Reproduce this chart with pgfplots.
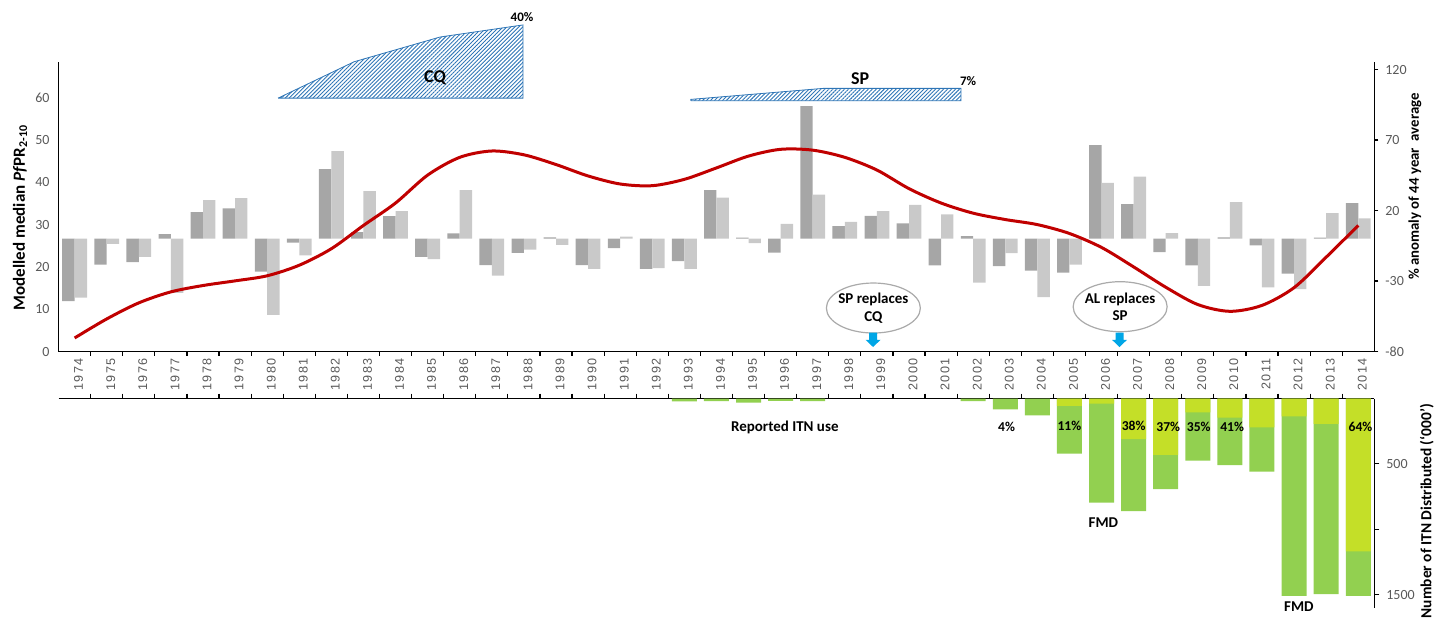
\documentclass[border=0pt]{standalone}
\usepackage{fontspec}
\setmainfont{Carlito}
\newfontfamily\yearfont[LetterSpace=10]{Liberation Sans}
\usepackage{pgfplots}
\pgfplotsset{compat=1.18}
\usetikzlibrary{patterns.meta}
\definecolor{dgray}{RGB}{166,166,166}
\definecolor{lgray}{RGB}{201,201,201}
\definecolor{redline}{RGB}{192,0,0}
\definecolor{hatch}{RGB}{46,117,182}
\definecolor{itngreen}{RGB}{146,208,80}
\definecolor{itnyellow}{RGB}{196,223,40}
\definecolor{arrowblue}{RGB}{0,166,230}
\definecolor{ticktext}{RGB}{89,89,89}
\definecolor{bubblegray}{RGB}{170,170,170}
\newcommand{\fs}[1]{\fontsize{#1}{#1}\selectfont}
\begin{document}
\begin{tikzpicture}
\useasboundingbox (-29.3pt,-132.75pt) rectangle (690.7pt,175.75pt);
% ---------- upper: anomaly bars (right axis) ----------
\begin{axis}[
  at={(0pt,0pt)}, anchor=south west, scale only axis,
  width=657.85pt, height=144.75pt,
  xmin=-0.5, xmax=40.5, ymin=-80, ymax=125.32,
  axis x line=none, axis y line*=right,
  ytick={-80,-30,20,70,120},
  tick align=outside, major tick length=2pt,
  tick style={black, line width=0.6pt},
  axis line style={black, line width=0.75pt},
  yticklabel style={font=\fs{7}, text=ticktext},
  /pgf/number format/assume math mode=true,
  ybar, bar width=6.2pt,
]
\addplot[fill=dgray, draw=none, bar shift=-3.1pt] coordinates {
(0,-44.3) (1,-18.3) (2,-16.6) (3,3.2) (4,18.8) (5,21.6) (6,-23.3) (7,-2.7) (8,49.3) (9,4.6) (10,16.0) (11,-12.9) (12,3.7) (13,-18.8) (14,-10.0) (15,1.0) (16,-18.8) (17,-6.7) (18,-21.4) (19,-15.9) (20,34.4) (21,0.8) (22,-9.8) (23,94.0) (24,8.9) (25,16.2) (26,10.8) (27,-19.0) (28,1.8) (29,-19.5) (30,-22.6) (31,-24.0) (32,66.3) (33,24.5) (34,-9.5) (35,-19.0) (36,1.0) (37,-4.8) (38,-24.7) (39,0.8) (40,25.2)};
\addplot[fill=lgray, draw=none, bar shift=3.1pt] coordinates {
(0,-41.7) (1,-3.6) (2,-12.9) (3,-38.4) (4,27.3) (5,28.7) (6,-54.0) (7,-11.9) (8,62.1) (9,33.7) (10,19.5) (11,-14.5) (12,34.4) (13,-26.1) (14,-7.7) (15,-4.3) (16,-21.4) (17,1.5) (18,-20.9) (19,-21.4) (20,29.2) (21,-3.2) (22,10.6) (23,31.3) (24,12.0) (25,19.5) (26,24.0) (27,17.2) (28,-31.1) (29,-10.3) (30,-41.5) (31,-18.3) (32,39.6) (33,44.1) (34,3.9) (35,-33.4) (36,25.9) (37,-34.6) (38,-35.8) (39,18.1) (40,14.5)};
\end{axis}
% ---------- upper: PfPR line (left axis) ----------
\begin{axis}[
  at={(0pt,0pt)}, anchor=south west, scale only axis,
  width=657.85pt, height=144.75pt,
  xmin=-0.5, xmax=40.5, ymin=0, ymax=68.44,
  axis x line*=bottom, axis y line*=left,
  axis line style={black, line width=0.75pt},
  xtick={0,...,40},
  xticklabels={1974,1975,1976,1977,1978,1979,1980,1981,1982,1983,1984,1985,1986,1987,1988,1989,1990,1991,1992,1993,1994,1995,1996,1997,1998,1999,2000,2001,2002,2003,2004,2005,2006,2007,2008,2009,2010,2011,2012,2013,2014},
  minor xtick={0.5,1.5,...,39.5},
  major tick length=0pt, minor tick length=2pt, tick align=outside,
  tick style={black, line width=0.6pt},
  ytick={0,10,...,60},
  xticklabel style={rotate=90, anchor=east, font=\yearfont\fs{6.3}, text=ticktext, yshift=-2pt},
  yticklabel style={font=\fs{7}, text=ticktext, xshift=-1pt},
  /pgf/number format/assume math mode=true,
  clip=false,
]
\addplot[draw=hatch, line width=0.4pt, pattern={Lines[angle=45,distance=1.4pt,line width=0.45pt]}, pattern color=hatch]
  coordinates {(6.34,59.9) (8.71,68.5) (11.39,74.35) (13.97,77.2) (13.97,59.9) (6.34,59.9)};
\addplot[draw=hatch, line width=0.4pt, pattern={Lines[angle=45,distance=1.4pt,line width=0.45pt]}, pattern color=hatch]
  coordinates {(19.2,59.3) (19.2,59.6) (23.32,62.2) (27.62,62.2) (27.62,59.3) (19.2,59.3)};
\addplot[redline, line width=1.5pt, smooth, mark=none] coordinates {
(0,3.2) (1,7.7) (2,11.5) (3,14.1) (4,15.6) (5,16.7) (6,17.9) (7,20.4) (8,24.3) (9,29.8) (10,35.1) (11,41.7) (12,45.9) (13,47.4) (14,46.5) (15,44.2) (16,41.5) (17,39.6) (18,39.2) (19,40.7) (20,43.4) (21,46.2) (22,47.8) (23,47.6) (24,45.9) (25,42.9) (26,38.5) (27,35.1) (28,32.7) (29,31.2) (30,30.0) (31,27.9) (32,24.6) (33,20.0) (34,15.2) (35,11.1) (36,9.5) (37,10.9) (38,15.1) (39,22.3) (40,29.8)};
\node[font=\bfseries\fs{9}] at (axis cs:11.23,64.66) {CQ};
\node[font=\bfseries\fs{9}] at (axis cs:24.48,64.6) {SP};
\node[font=\bfseries\fs{6.5}] at (axis cs:27.84,64.0) {7\%};
\node[font=\bfseries\fs{6.5}] at (axis cs:13.94,79.0) {40\%};
% bubbles
\draw[bubblegray, line width=0.6pt, fill=white] (axis cs:24.89,10.28) ellipse [x radius=23.5pt, y radius=12.5pt];
\node[font={\fontsize{7.5}{8.8}\selectfont\bfseries}, align=center] at (axis cs:24.89,10.28) {SP replaces\\CQ};
\draw[bubblegray, line width=0.6pt, fill=white] (axis cs:32.58,10.59) ellipse [x radius=23.5pt, y radius=12.5pt];
\node[font={\fontsize{7.5}{8.8}\selectfont\bfseries}, align=center] at (axis cs:32.58,10.59) {AL replaces\\SP};
\fill[arrowblue] (axis cs:24.88,1.06) -- ++(-3.75pt,3.6pt) -- ++(1.75pt,0pt) -- ++(0pt,3.6pt) -- ++(4pt,0pt) -- ++(0pt,-3.6pt) -- ++(1.75pt,0pt) -- cycle;
\fill[arrowblue] (axis cs:32.56,1.06) -- ++(-3.75pt,3.6pt) -- ++(1.75pt,0pt) -- ++(0pt,3.6pt) -- ++(4pt,0pt) -- ++(0pt,-3.6pt) -- ++(1.75pt,0pt) -- cycle;
\end{axis}
% ---------- lower: ITN distributed ----------
\begin{axis}[
  at={(0pt,-23.5pt)}, anchor=north west, scale only axis,
  width=657.85pt, height=104.75pt,
  xmin=-0.5, xmax=40.5, ymin=0, ymax=1603, y dir=reverse,
  axis x line*=top, axis y line*=right,
  axis line style={black, line width=0.75pt},
  xtick={0.5,1.5,...,39.5}, xticklabels={},
  ytick={500,1000,1500}, yticklabels={500,,1500},
  tick align=outside, major tick length=2.5pt,
  tick style={black, line width=0.6pt},
  yticklabel style={font=\fs{7}, text=ticktext},
  /pgf/number format/assume math mode=true,
  ybar, bar width=12.5pt,
  clip=false,
]
\addplot[fill=itngreen, draw=none, bar shift=0pt] coordinates {
(19,22) (20,20) (21,32) (22,18) (23,20) (28,20) (29,83) (30,129) (31,422) (32,797) (33,861) (34,694) (35,476) (36,509) (37,560) (38,1511) (39,1496) (40,1511)};
\addplot[fill=itnyellow, draw=none, bar shift=0pt] coordinates {
(31,56) (32,40) (33,310) (34,431) (35,106) (36,147) (37,220) (38,136) (39,195) (40,1169)};
\node[font=\bfseries\fs{7.5}] at (axis cs:22.13,220) {Reported ITN use};
\node[font=\bfseries\fs{6.8}] at (axis cs:29.04,215) {4\%};
\node[font=\bfseries\fs{6.8}] at (axis cs:31,210) {11\%};
\node[font=\bfseries\fs{6.8}] at (axis cs:33,210) {38\%};
\node[font=\bfseries\fs{6.8}] at (axis cs:34.08,215) {37\%};
\node[font=\bfseries\fs{6.8}] at (axis cs:35.03,215) {35\%};
\node[font=\bfseries\fs{6.8}] at (axis cs:36.07,215) {41\%};
\node[font=\bfseries\fs{6.8}] at (axis cs:40.07,215) {64\%};
\node[font=\bfseries\fs{7.5}] at (axis cs:32.06,950) {FMD};
\node[font=\bfseries\fs{7.5}] at (axis cs:38.15,1590) {FMD};
\end{axis}
% ---------- outer labels ----------
\node[rotate=90, font=\bfseries\fs{8.5}] at (-19.3pt,67pt) {Modelled median \textit{Pf}PR\textsubscript{2-10}};
\node[rotate=90, font=\bfseries\fs{7.4}] at (678.2pt,82.5pt) {\% anomaly of 44 year~~average};
\node[rotate=90, anchor=east, font=\bfseries\fs{7.7}] at (684.05pt,-22.75pt) {Number of ITN Distributed (`000')};
\end{tikzpicture}
\end{document}
